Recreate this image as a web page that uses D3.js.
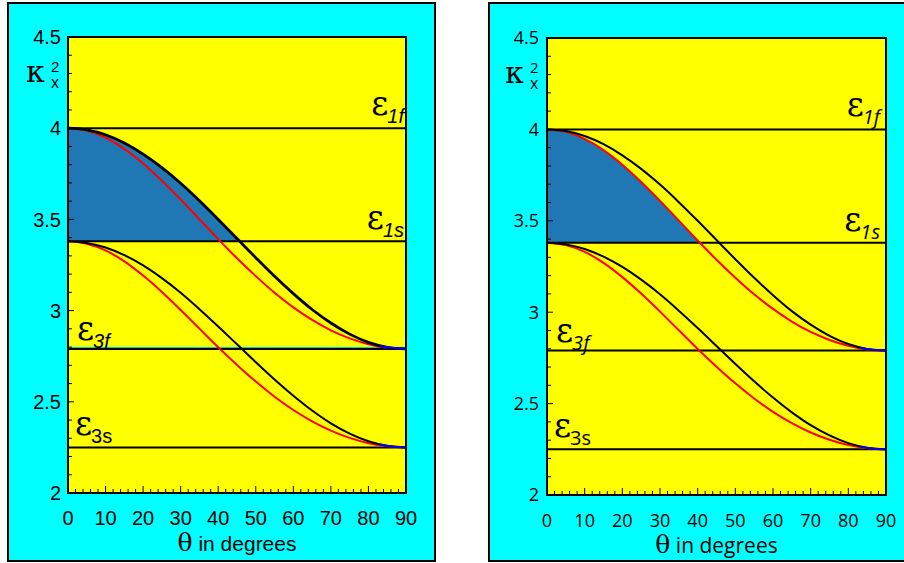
<!DOCTYPE html>
<html>
<head>
<meta charset="utf-8">
<script src="https://cdn.jsdelivr.net/npm/d3@7"></script>
<style>
  body { margin: 0; background: #fff; }
  svg { display: block; }
</style>
</head>
<body>
<svg id="svg01" width="904" height="563"></svg>
<script>
// angle in degrees
var theta = [0, 5, 10, 15, 20, 25, 30, 35, 40, 45, 50, 55, 60, 65, 70, 75, 80, 85, 90];

// kappa_x^2
var upperBlack = [4.000, 3.991, 3.964, 3.919, 3.858, 3.784, 3.698, 3.602, 3.500, 3.395, 3.290, 3.188, 3.093, 3.006, 2.932, 2.871, 2.826, 2.799, 2.790];
var upperRed   = [4.000, 3.987, 3.948, 3.887, 3.807, 3.712, 3.609, 3.501, 3.392, 3.287, 3.189, 3.098, 3.018, 2.949, 2.892, 2.848, 2.816, 2.796, 2.790];
var lowerBlack = [3.380, 3.371, 3.346, 3.304, 3.248, 3.178, 3.098, 3.008, 2.913, 2.815, 2.717, 2.622, 2.533, 2.452, 2.382, 2.326, 2.284, 2.259, 2.250];
var lowerRed   = [3.380, 3.367, 3.330, 3.270, 3.192, 3.102, 3.003, 2.901, 2.799, 2.702, 2.611, 2.528, 2.455, 2.393, 2.342, 2.302, 2.273, 2.256, 2.250];

// short blue pieces at the far end
var blueTheta = [83, 86, 90];
var upperBlue = [2.806, 2.796, 2.790];
var lowerBlue = [2.266, 2.255, 2.250];

// horizontal epsilon levels
var epsLevels = [4.0, 3.38, 2.79, 2.25];
var epsNames  = ["1f", "1s", "3f", "3s"];

var yTicks = [2, 2.5, 3, 3.5, 4, 4.5];
var yTickLabels = ["2", "2.5", "3", "3.5", "4", "4.5"];
var xTicks = [0, 10, 20, 30, 40, 50, 60, 70, 80, 90];
var xTickLabels = ["0", "10", "20", "30", "40", "50", "60", "70", "80", "90"];

var svg = d3.select("#svg01");

function drawPanel(p) {
  var g = svg.append("g");

  g.append("rect")
      .attr("x", p.box.x).attr("y", p.box.y)
      .attr("width", p.box.w).attr("height", p.box.h)
      .attr("fill", "#00ffff")
      .attr("stroke", "#000")
      .attr("stroke-width", 2);

  var width = p.plot.w, height = p.plot.h;
  var pg = g.append("g").attr("transform", "translate(" + p.plot.x + "," + p.plot.y + ")");

  var x = d3.scaleLinear().domain([0, 90]).range([0, width]);
  var y = d3.scaleLinear().domain([2, 4.5]).range([height, 0]);

  pg.append("rect")
      .attr("width", width).attr("height", height)
      .attr("fill", "#ffff00");

  // shaded region between the chosen curve and eps_1s
  var clipId = "clip" + p.id;
  pg.append("clipPath").attr("id", clipId)
    .append("rect")
      .attr("x", 0).attr("y", 0)
      .attr("width", width).attr("height", y(epsLevels[1]));

  var area = d3.area()
      .curve(d3.curveMonotoneX)
      .x(function (d, i) { return x(theta[i]); })
      .y0(y(epsLevels[1]))
      .y1(function (d) { return y(d); });

  pg.append("path")
      .datum(p.fillSeries)
      .attr("clip-path", "url(#" + clipId + ")")
      .attr("fill", "#1f78b4")
      .attr("d", area);

  // epsilon lines
  pg.selectAll(".eps")
    .data(epsLevels)
    .enter().append("line")
      .attr("class", "eps")
      .attr("x1", 0).attr("x2", width)
      .attr("y1", function (d) { return y(d); })
      .attr("y2", function (d) { return y(d); })
      .attr("stroke", "#000")
      .attr("stroke-width", 2);

  if (p.id == "L") {
    pg.append("line")
        .attr("x1", 0).attr("x2", width)
        .attr("y1", y(epsLevels[2]) - 1.5).attr("y2", y(epsLevels[2]) - 1.5)
        .attr("stroke", "#00c8c8")
        .attr("stroke-width", 1);
  }

  var line = d3.line()
      .curve(d3.curveMonotoneX)
      .x(function (d, i) { return x(theta[i]); })
      .y(function (d) { return y(d); });

  var blueLine = d3.line()
      .curve(d3.curveMonotoneX)
      .x(function (d, i) { return x(blueTheta[i]); })
      .y(function (d) { return y(d); });

  [[lowerRed, "#ff0000", 2], [lowerBlack, "#000", 2], [upperRed, "#ff0000", 2], [upperBlack, "#000", p.id == "L" ? 2.8 : 2]]
    .forEach(function (s) {
      pg.append("path")
          .datum(s[0])
          .attr("fill", "none")
          .attr("stroke", s[1])
          .attr("stroke-width", s[2])
          .attr("d", line);
    });

  [upperBlue, lowerBlue].forEach(function (s) {
    pg.append("path")
        .datum(s)
        .attr("fill", "none")
        .attr("stroke", "#0000ff")
        .attr("stroke-width", 2)
        .attr("d", blueLine);
  });

  // epsilon labels
  var labelPos = [
    { x: width - p.rightPad, dy: -13, anchor: "end" },
    { x: width - p.rightPad, dy: -12, anchor: "end" },
    { x: 9, dy: -9, anchor: "start" },
    { x: 7, dy: -12, anchor: "start" }
  ];
  epsLevels.forEach(function (lev, i) {
    var t = pg.append("text")
        .attr("x", labelPos[i].x)
        .attr("y", y(lev) + labelPos[i].dy)
        .attr("text-anchor", labelPos[i].anchor);
    t.append("tspan")
        .attr("font-family", "DejaVu Serif")
        .attr("font-size", 33)
        .text("\u03b5");
    t.append("tspan")
        .attr("dy", 8)
        .attr("dx", -1)
        .attr("font-family", p.font)
        .attr("font-size", 20)
        .attr("font-style", epsNames[i] == "3s" ? "normal" : "italic")
        .text(epsNames[i]);
  });

  // y axis ticks (minor every 0.1)
  var yMinor = d3.range(20, 45).map(function (d) { return d / 10; });
  pg.selectAll(".ytick")
    .data(yMinor)
    .enter().append("line")
      .attr("x1", 0)
      .attr("x2", function (d, i) { return i % 5 == 0 ? 6 : 4; })
      .attr("y1", function (d) { return y(d); })
      .attr("y2", function (d) { return y(d); })
      .attr("stroke", "#000")
      .attr("stroke-width", 1);

  // x axis ticks (minor every 2 degrees)
  var xMinor = d3.range(0, 91, 2);
  pg.selectAll(".xtick")
    .data(xMinor)
    .enter().append("line")
      .attr("x1", function (d) { return x(d); })
      .attr("x2", function (d) { return x(d); })
      .attr("y1", height)
      .attr("y2", function (d) { return d % 10 == 0 ? height - 7 : height - 4; })
      .attr("stroke", "#000")
      .attr("stroke-width", 1);

  pg.append("rect")
      .attr("width", width).attr("height", height)
      .attr("fill", "none")
      .attr("stroke", "#000")
      .attr("stroke-width", 2);

  pg.selectAll(".ylab")
    .data(yTicks)
    .enter().append("text")
      .attr("x", -p.labelGap)
      .attr("y", function (d) { return y(d); })
      .attr("dy", "0.36em")
      .attr("text-anchor", "end")
      .attr("font-family", p.font)
      .attr("font-size", p.tickSize)
      .text(function (d, i) { return yTickLabels[i]; });

  pg.selectAll(".xlab")
    .data(xTicks)
    .enter().append("text")
      .attr("x", function (d) { return x(d); })
      .attr("y", height + 32)
      .attr("text-anchor", "middle")
      .attr("font-family", p.font)
      .attr("font-size", p.tickSize)
      .text(function (d, i) { return xTickLabels[i]; });

  // axis title
  var xt = pg.append("text")
      .attr("x", width / 2)
      .attr("y", height + 58)
      .attr("text-anchor", "middle");
  xt.append("tspan")
      .attr("font-family", "DejaVu Serif")
      .attr("font-size", 25)
      .text("\u03b8");
  xt.append("tspan")
      .attr("font-family", p.font)
      .attr("font-size", 21)
      .text(" in degrees");

  // kappa_x^2
  pg.append("text")
      .attr("x", -42).attr("y", 45)
      .attr("font-family", "DejaVu Serif")
      .attr("font-size", 30)
      .text("\u03ba");
  pg.append("text")
      .attr("x", -17).attr("y", 35)
      .attr("font-family", p.font)
      .attr("font-size", 15)
      .text("2");
  pg.append("text")
      .attr("x", -17).attr("y", 51)
      .attr("font-family", p.font)
      .attr("font-size", 16)
      .text("x");
}

drawPanel({
  id: "L",
  box: { x: 8, y: 3, w: 427, h: 558 },
  plot: { x: 68, y: 37, w: 338, h: 456 },
  font: "Liberation Sans, Arial, sans-serif",
  tickSize: 20,
  labelGap: 7,
  rightPad: 2,
  fillSeries: upperBlack
});

drawPanel({
  id: "R",
  box: { x: 489, y: 3, w: 430, h: 558 },
  plot: { x: 547, y: 38, w: 339, h: 457 },
  font: "Open Sans",
  tickSize: 18,
  labelGap: 8,
  rightPad: 6,
  fillSeries: upperRed
});
</script>
</body>
</html>
